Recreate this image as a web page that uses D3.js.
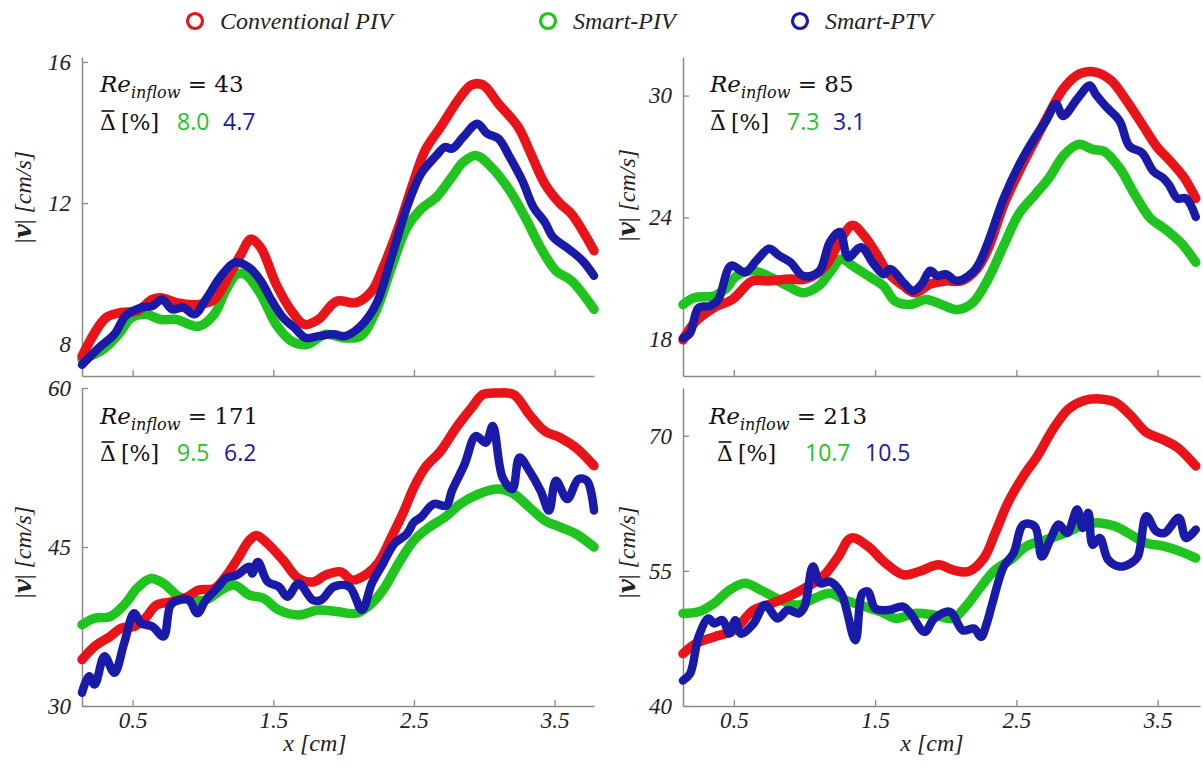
<!DOCTYPE html>
<html><head><meta charset="utf-8">
<script src="https://cdn.jsdelivr.net/npm/d3@7"></script>
<style>body{margin:0;background:#fff}</style>
</head><body>
<svg id="c" width="1203" height="772"></svg>
<script>
// ---------- DATA ----------
const seriesNames = ["Conventional PIV", "Smart-PIV", "Smart-PTV"];
const seriesColors = ["#e8141a", "#1fc41f", "#1a1aa8"];
const xTicks = [0.5, 1.5, 2.5, 3.5];
const reValues = [43, 85, 171, 213];
const deltaPIV = ["8.0", "7.3", "9.5", "10.7"];
const deltaPTV = ["4.7", "3.1", "6.2", "10.5"];
const yTicks43 = [8, 12, 16];
const yTicks85 = [18, 24, 30];
const yTicks171 = [30, 45, 60];
const yTicks213 = [40, 55, 70];

// Re = 43
const re43_conv = [[0.14,7.66],[0.31,8.75],[0.42,8.9],[0.53,8.94],[0.64,9.27],[0.70,9.32],[0.81,9.18],[0.97,9.13],[1.08,9.27],[1.19,9.98],[1.27,10.55],[1.34,10.98],[1.41,10.74],[1.52,9.7],[1.63,8.94],[1.72,8.56],[1.82,8.7],[1.95,9.22],[2.09,9.18],[2.20,9.51],[2.28,10.17],[2.39,11.31],[2.50,12.64],[2.58,13.5],[2.69,14.16],[2.83,15.01],[2.91,15.35],[2.99,15.35],[3.10,14.82],[3.24,14.16],[3.32,13.5],[3.43,12.55],[3.54,11.98],[3.62,11.69],[3.78,10.65]];
const re43_spiv = [[0.14,7.57],[0.29,7.85],[0.40,8.28],[0.49,8.75],[0.59,8.85],[0.70,8.7],[0.81,8.7],[0.97,8.51],[1.08,8.85],[1.16,9.51],[1.24,9.98],[1.30,9.98],[1.41,9.42],[1.52,8.56],[1.63,8.09],[1.74,7.99],[1.87,8.28],[2.01,8.18],[2.12,8.23],[2.23,8.94],[2.34,10.17],[2.45,11.31],[2.55,11.83],[2.66,12.17],[2.77,12.74],[2.85,13.16],[2.94,13.35],[3.05,13.02],[3.18,12.36],[3.29,11.6],[3.40,10.74],[3.51,10.08],[3.62,9.8],[3.78,8.99]];
const re43_sptv = [[0.14,7.42],[0.26,7.9],[0.37,8.28],[0.45,8.8],[0.56,9.04],[0.64,9.08],[0.71,9.27],[0.78,8.99],[0.86,9.04],[0.94,8.85],[1.02,9.27],[1.13,9.94],[1.23,10.32],[1.33,10.17],[1.41,9.8],[1.49,9.23],[1.57,8.75],[1.65,8.47],[1.73,8.18],[1.82,8.23],[1.93,8.28],[2.01,8.23],[2.12,8.51],[2.23,9.13],[2.34,10.46],[2.45,11.88],[2.55,12.83],[2.66,13.35],[2.72,13.59],[2.77,13.54],[2.85,13.87],[2.95,14.25],[3.02,13.97],[3.10,13.83],[3.18,13.31],[3.27,12.64],[3.35,11.88],[3.43,11.46],[3.49,11.03],[3.60,10.7],[3.70,10.36],[3.78,9.94]];

// Re = 85
const re85_conv = [[0.14,17.98],[0.22,18.81],[0.36,19.56],[0.49,19.97],[0.63,20.88],[0.74,20.88],[0.90,20.97],[1.01,20.97],[1.15,21.63],[1.26,22.96],[1.34,23.62],[1.42,23.12],[1.51,22.21],[1.59,21.3],[1.70,20.63],[1.78,20.3],[1.89,20.72],[2.0,20.88],[2.11,20.88],[2.22,21.46],[2.30,22.46],[2.41,24.61],[2.52,26.27],[2.63,27.76],[2.73,29.09],[2.84,30.41],[2.95,31.08],[3.06,31.16],[3.17,30.75],[3.28,29.75],[3.39,28.59],[3.50,27.43],[3.58,26.85],[3.69,25.94],[3.77,24.94]];
const re85_spiv = [[0.14,19.72],[0.22,20.05],[0.36,20.14],[0.44,20.47],[0.52,21.13],[0.63,21.38],[0.74,21.13],[0.88,20.63],[0.99,20.3],[1.10,20.63],[1.18,21.3],[1.26,21.96],[1.34,21.63],[1.45,21.13],[1.56,20.63],[1.64,19.89],[1.75,19.72],[1.86,19.97],[1.97,19.72],[2.08,19.47],[2.19,19.8],[2.30,20.97],[2.41,22.62],[2.52,24.2],[2.63,25.11],[2.73,25.94],[2.84,27.1],[2.94,27.6],[3.04,27.35],[3.12,27.26],[3.23,26.44],[3.34,25.11],[3.45,23.95],[3.55,23.45],[3.66,22.79],[3.77,21.8]];
const re85_sptv = [[0.14,18.07],[0.19,18.31],[0.25,19.56],[0.33,19.64],[0.39,19.97],[0.48,21.63],[0.58,21.3],[0.66,21.88],[0.75,22.46],[0.82,22.13],[0.90,21.8],[0.99,21.13],[1.10,21.3],[1.18,22.79],[1.25,23.29],[1.31,22.04],[1.40,22.54],[1.49,21.71],[1.56,21.21],[1.61,21.46],[1.70,20.8],[1.77,20.39],[1.83,20.72],[1.89,21.38],[1.94,21.13],[2.0,21.21],[2.08,20.88],[2.19,21.3],[2.24,21.8],[2.30,22.79],[2.41,24.94],[2.52,26.6],[2.63,27.93],[2.71,28.76],[2.78,29.59],[2.83,29.0],[2.93,29.83],[3.02,30.5],[3.06,30.08],[3.14,29.42],[3.23,28.76],[3.30,27.51],[3.39,27.18],[3.47,26.27],[3.54,25.94],[3.58,25.61],[3.64,24.94],[3.70,24.94],[3.77,24.03]];

// Re = 171
const re171_conv = [[0.14,34.38],[0.23,35.63],[0.34,36.56],[0.42,37.34],[0.51,37.5],[0.59,38.28],[0.67,39.53],[0.78,39.84],[0.89,40.31],[0.97,40.94],[1.08,41.09],[1.16,42.19],[1.24,43.75],[1.33,45.63],[1.38,46.09],[1.46,45.31],[1.57,43.75],[1.68,42.03],[1.79,41.72],[1.87,42.34],[1.98,42.66],[2.06,41.88],[2.17,42.5],[2.25,43.59],[2.34,45.94],[2.42,48.13],[2.50,50.63],[2.58,52.5],[2.69,54.06],[2.80,56.25],[2.91,58.13],[2.99,59.38],[3.10,59.53],[3.21,59.38],[3.32,57.5],[3.43,55.94],[3.54,55.31],[3.65,54.38],[3.78,52.66]];
const re171_spiv = [[0.14,37.66],[0.23,38.28],[0.34,38.44],[0.45,39.69],[0.53,41.09],[0.63,42.03],[0.72,41.56],[0.83,40.31],[0.92,40.0],[1.02,40.0],[1.13,40.94],[1.22,41.41],[1.33,40.47],[1.43,40.16],[1.54,39.06],[1.68,38.59],[1.82,39.06],[1.95,38.91],[2.09,38.75],[2.20,39.69],[2.28,40.94],[2.39,43.44],[2.50,45.63],[2.61,46.88],[2.72,47.81],[2.83,49.06],[2.96,50.0],[3.10,50.47],[3.21,50.0],[3.32,48.75],[3.43,47.5],[3.54,46.88],[3.65,46.25],[3.78,45.0]];
const re171_sptv = [[0.14,31.25],[0.19,32.81],[0.23,32.03],[0.30,34.69],[0.37,33.13],[0.44,35.94],[0.51,38.75],[0.56,37.81],[0.64,37.5],[0.72,36.56],[0.77,39.53],[0.83,40.0],[0.90,40.0],[0.96,38.75],[1.02,40.0],[1.11,41.25],[1.16,42.03],[1.24,42.34],[1.33,43.13],[1.35,42.5],[1.39,43.59],[1.46,41.72],[1.54,41.25],[1.60,40.31],[1.68,41.56],[1.78,40.0],[1.84,40.0],[1.93,41.25],[2.04,41.25],[2.13,39.06],[2.20,41.56],[2.28,43.44],[2.36,45.31],[2.45,46.25],[2.50,47.34],[2.55,47.81],[2.64,49.06],[2.73,48.91],[2.77,50.31],[2.86,52.81],[2.94,55.47],[3.01,54.84],[3.06,56.41],[3.13,51.56],[3.20,50.47],[3.25,53.44],[3.32,52.19],[3.40,50.31],[3.46,48.44],[3.51,51.25],[3.59,49.53],[3.67,51.41],[3.73,51.25],[3.78,48.44]];

// Re = 213
const re213_conv = [[0.14,45.81],[0.23,46.93],[0.36,47.67],[0.50,48.41],[0.64,50.65],[0.77,51.39],[0.91,52.32],[1.02,53.25],[1.13,54.37],[1.24,56.6],[1.33,58.65],[1.45,57.72],[1.56,56.04],[1.70,54.56],[1.81,54.93],[1.95,55.67],[2.05,55.11],[2.16,54.93],[2.27,56.42],[2.35,59.21],[2.44,62.56],[2.55,65.53],[2.65,67.77],[2.76,70.74],[2.87,72.98],[2.98,73.91],[3.09,74.09],[3.20,73.72],[3.31,72.23],[3.42,70.37],[3.53,69.63],[3.64,68.7],[3.77,66.65]];
const re213_spiv = [[0.14,50.28],[0.25,50.46],[0.36,51.39],[0.47,52.88],[0.58,53.62],[0.69,52.88],[0.83,51.76],[0.96,51.21],[1.07,51.95],[1.18,52.51],[1.29,51.76],[1.43,51.02],[1.54,50.46],[1.65,49.72],[1.78,50.28],[1.92,50.09],[2.05,49.72],[2.14,51.02],[2.25,53.25],[2.35,55.11],[2.46,56.23],[2.57,57.72],[2.71,58.46],[2.85,59.21],[2.98,60.14],[3.09,60.32],[3.20,59.95],[3.31,59.02],[3.42,58.09],[3.55,57.72],[3.66,57.16],[3.77,56.42]];
const re213_sptv = [[0.14,42.83],[0.19,43.58],[0.25,47.67],[0.32,49.72],[0.36,49.16],[0.42,49.53],[0.47,48.04],[0.51,49.53],[0.55,48.04],[0.64,49.16],[0.72,51.21],[0.81,49.72],[0.88,50.65],[0.96,50.28],[1.0,51.02],[1.06,55.48],[1.11,53.62],[1.18,53.81],[1.26,52.51],[1.36,47.3],[1.41,52.51],[1.45,52.69],[1.5,50.83],[1.59,50.65],[1.70,51.02],[1.75,50.28],[1.85,48.23],[1.92,49.72],[2.03,50.46],[2.12,48.41],[2.20,48.6],[2.25,47.67],[2.29,49.16],[2.33,51.39],[2.41,55.48],[2.48,56.97],[2.55,60.14],[2.63,59.95],[2.68,56.6],[2.74,58.46],[2.80,60.14],[2.86,59.21],[2.93,61.81],[2.97,59.77],[3.01,61.44],[3.04,57.91],[3.09,58.65],[3.15,56.23],[3.23,55.48],[3.31,55.85],[3.36,56.6],[3.42,61.07],[3.49,59.39],[3.55,59.21],[3.65,60.88],[3.70,58.65],[3.77,59.58]];

// ---------- LAYOUT ----------
const panels = [
  {x0:82, x1:594, y0:57, y1:376, xd:[0.14,3.78], yd:[7.1,16.14], ticks:yTicks43, series:[re43_conv,re43_spiv,re43_sptv], xlab:false, annX:100, annY:92, dX:100, dY:130, n1:177, n2:223, yl:23, ylc:197},
  {x0:683, x1:1200, y0:57, y1:376, xd:[0.14,3.80], yd:[16.2,31.9], ticks:yTicks85, series:[re85_conv,re85_spiv,re85_sptv], xlab:false, annX:710, annY:92, dX:710, dY:130, n1:787, n2:833, yl:627, ylc:195},
  {x0:82, x1:594, y0:388, y1:706, xd:[0.14,3.78], yd:[30,60], ticks:yTicks171, series:[re171_conv,re171_spiv,re171_sptv], xlab:true, annX:100, annY:424, dX:100, dY:461, n1:177, n2:224, yl:23, ylc:552, xlc:315},
  {x0:683, x1:1200, y0:388, y1:706, xd:[0.14,3.80], yd:[40,75.3], ticks:yTicks213, series:[re213_conv,re213_spiv,re213_sptv], xlab:true, annX:709, annY:424, dX:717, dY:461, n1:805, n2:865, yl:627, ylc:552, xlc:932}
];

const svg = d3.select("#c");
const serif = "'Liberation Serif','Times New Roman',serif";
const cambria = "'DejaVu Serif',serif";
const sans = "'Open Sans','Noto Sans',sans-serif";

panels.forEach((p, i) => {
  const x = d3.scaleLinear().domain(p.xd).range([p.x0, p.x1]);
  const y = d3.scaleLinear().domain(p.yd).range([p.y1, p.y0]);
  const g = svg.append("g");

  const ya = g.append("g").attr("transform", `translate(${p.x0},0)`)
    .call(d3.axisLeft(y).tickValues(p.ticks).tickSizeInner(-6).tickSizeOuter(0).tickPadding(11));
  const xa = g.append("g").attr("transform", `translate(0,${p.y1})`)
    .call(d3.axisBottom(x).tickValues(xTicks).tickSizeInner(-6).tickSizeOuter(0).tickPadding(6)
      .tickFormat(p.xlab ? d3.format(".1f") : () => ""));
  [ya, xa].forEach(a => {
    a.select(".domain").attr("stroke", "#8a8a8a").attr("stroke-width", 1.5);
    a.selectAll(".tick line").attr("stroke", "#8a8a8a").attr("stroke-width", 1.3);
    a.selectAll(".tick text").attr("font-family", serif).attr("font-style", "italic")
      .attr("font-size", 23).attr("fill", "#222");
  });

  const line = d3.line().x(d => x(d[0])).y(d => y(d[1])).curve(d3.curveCatmullRom.alpha(0.5));
  const order = [1, 0, 2];
  order.forEach(k => {
    g.append("path").datum(p.series[k]).attr("d", line).attr("fill", "none")
      .attr("stroke", seriesColors[k]).attr("stroke-width", k === 2 ? 8.5 : 9.5)
      .attr("stroke-linejoin", "round").attr("stroke-linecap", "round");
  });

  // y-axis label
  const yt = g.append("text").attr("transform", `translate(${p.yl},${p.ylc}) rotate(-90)`)
    .attr("text-anchor", "middle").attr("dy", "0.35em").attr("font-size", 24).attr("fill", "#222");
  yt.append("tspan").attr("font-family", serif).text("|");
  yt.append("tspan").attr("font-family", cambria).attr("font-weight", "bold").attr("font-style", "italic").text("v");
  yt.append("tspan").attr("font-family", serif).text("|");
  yt.append("tspan").attr("font-family", serif).attr("font-style", "italic").text(" [cm/s]");

  if (p.xlab) {
    g.append("text").attr("x", p.xlc).attr("y", 751).attr("text-anchor", "middle")
      .attr("font-family", serif).attr("font-style", "italic").attr("font-size", 24).attr("fill", "#222")
      .text("x [cm]");
  }

  // annotation
  const a1 = g.append("text").attr("x", p.annX).attr("y", p.annY).attr("font-family", cambria)
    .attr("font-size", 23).attr("fill", "#111");
  a1.append("tspan").attr("font-style", "italic").text("Re");
  a1.append("tspan").attr("font-style", "italic").attr("font-size", 16).attr("dy", 6).text("inflow");
  a1.append("tspan").attr("dy", -6).text(" = " + reValues[i]);

  const dT = g.append("text").attr("x", p.dX).attr("y", p.dY).attr("font-family", cambria)
    .attr("font-size", 22).attr("fill", "#111").text("\u0394");
  const dw = dT.node().getComputedTextLength();
  g.append("line").attr("x1", p.dX + 1.5).attr("x2", p.dX + dw - 1.5)
    .attr("y1", p.dY - 19).attr("y2", p.dY - 19).attr("stroke", "#111").attr("stroke-width", 1.6);
  g.append("text").attr("x", p.dX + dw + 5).attr("y", p.dY).attr("font-family", cambria)
    .attr("font-size", 22).attr("fill", "#111").text("[%]");
  g.append("text").attr("x", p.n1).attr("y", p.dY).attr("font-family", sans)
    .attr("font-size", 23).attr("fill", seriesColors[1]).text(deltaPIV[i]);
  g.append("text").attr("x", p.n2).attr("y", p.dY).attr("font-family", sans)
    .attr("font-size", 23).attr("fill", seriesColors[2]).text(deltaPTV[i]);
});

// legend
const legX = [195, 548, 800];
seriesNames.forEach((s, k) => {
  svg.append("circle").attr("cx", legX[k]).attr("cy", 21).attr("r", 7.5)
    .attr("fill", "none").attr("stroke", seriesColors[k]).attr("stroke-width", 3.2);
  svg.append("text").attr("x", legX[k] + 25).attr("y", 29).attr("font-family", serif)
    .attr("font-style", "italic").attr("font-size", 24).attr("fill", "#222").text(s);
});
</script>
</body></html>
